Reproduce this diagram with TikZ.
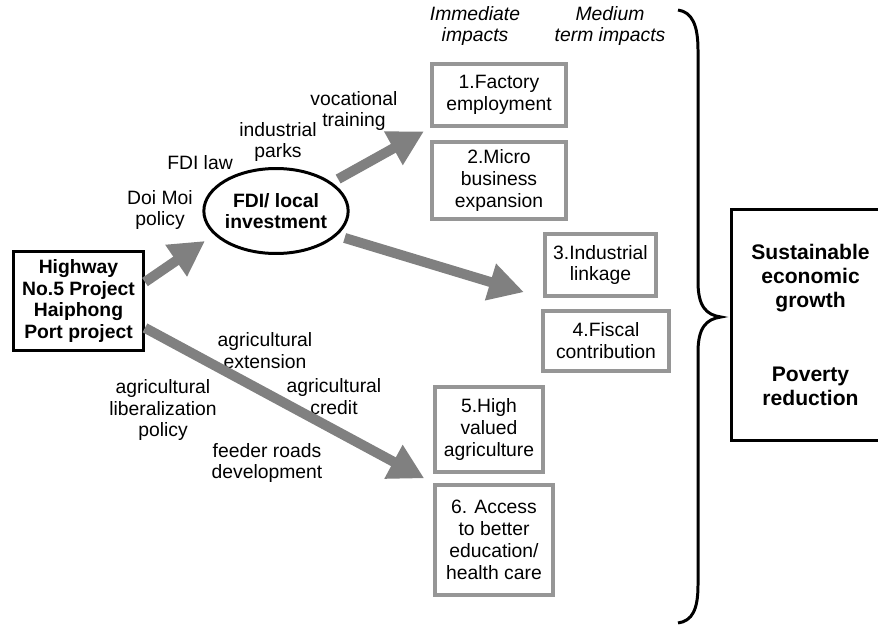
\documentclass[tikz,border=0pt]{standalone}
\usepackage{fontspec}
\setmainfont{Liberation Sans}
\usetikzlibrary{arrows.meta,shapes.geometric}
\definecolor{flowgray}{RGB}{128,128,128}
\definecolor{framegray}{RGB}{150,150,150}

\begin{document}
\begin{tikzpicture}[x=0.02cm, y=-0.02cm,
    impact/.style={draw=framegray, line width=2.2pt, inner sep=0pt, align=center,
                   font=\fontsize{11}{12.5}\selectfont},
    driver/.style={draw, line width=1.7pt, inner sep=0pt, align=center,
                   font=\fontsize{11}{12.5}\selectfont\bfseries},
    hub/.style={draw, ellipse, line width=1.7pt, inner sep=0pt, align=center,
                minimum width=2.78cm, minimum height=1.70cm,
                font=\fontsize{11}{12}\selectfont\bfseries},
    note/.style={inner sep=0pt, align=center, font=\fontsize{11}{12.5}\selectfont},
    head/.style={note, font=\fontsize{11}{12.5}\selectfont\itshape},
    flow/.style={draw=flowgray, line width=0.2cm,
                 -{Triangle[length=0.7cm, width=0.72cm]}},
  ]
  \path[use as bounding box] (0,0) rectangle (878,625);
  \clip (0,0) rectangle (878,625);
  % The start: the projects and the investment they bring
  \node[driver, minimum width=2.6cm, minimum height=1.98cm] (hw) at (78.5,301)
    {Highway\\No.5 Project\\Haiphong\\Port project};
  \node[hub] (fdi) at (276,211) {FDI/ local\\investment};
  % Column headers
  \node[head] (imm) at (475,26) {Immediate\\impacts};
  \node[head] (med) at (610,26) {Medium\\term impacts};
  % The impacts
  \node[impact, minimum width=2.68cm, minimum height=1.24cm] (fac) at (499,95)
    {1.Factory\\employment};
  \node[impact, minimum width=2.68cm, minimum height=1.54cm] (micro) at (499,180.5)
    {2.Micro\\business\\expansion};
  \node[impact, minimum width=2.22cm, minimum height=1.24cm] (link) at (600.5,265)
    {3.Industrial\\linkage};
  \node[impact, minimum width=2.52cm, minimum height=1.20cm] (fisc) at (606,341)
    {4.Fiscal\\contribution};
  \node[impact, minimum width=2.16cm, minimum height=1.70cm] (agri) at (489,429.5)
    {5.High\\valued\\agriculture};
  \node[impact, minimum width=2.36cm, minimum height=2.20cm] (acc) at (494,540)
    {6. Access\\to better\\education/\\health care};
  % The goal
  \node[draw, line width=2pt, inner sep=0pt, align=center,
        minimum width=3.17cm, minimum height=4.62cm,
        font=\fontsize{12}{13.9}\selectfont\bfseries] (goal) at (810.5,325)
    {Sustainable\\economic\\growth\\[28pt]Poverty\\reduction};
  \draw[line width=1.7pt] (678,10) .. controls (692,12) and (698,25) .. (698,50)
    -- (698,282) .. controls (698,306) and (706,315) .. (721,317)
    .. controls (706,319) and (698,328) .. (698,352)
    -- (698,585) .. controls (698,610) and (692,621) .. (678,623);
  % Labels along the arrows
  \node[note] (doimoi) at (160,210) {Doi Moi\\policy};
  \node[note] (fdilaw) at (200,163) {FDI law};
  \node[note] (parks) at (278,142) {industrial\\parks};
  \node[note] (voc) at (354,111) {vocational\\training};
  \node[note] (ext) at (265,351) {agricultural\\extension};
  \node[note] (lib) at (163,410) {agricultural\\liberalization\\policy};
  \node[note] (credit) at (334,397) {agricultural\\credit};
  \node[note] (feeder) at (267,463) {feeder roads\\development};
  % Arrows
  \draw[flow, shorten >=0.22cm] ([yshift=10.8pt]hw.east) -- (fdi.201);
  \draw[flow, shorten <=0.14cm, shorten >=0.14cm] (fdi.27) -- (fac.south west);
  \draw[flow, shorten <=0.16cm, shorten >=0.4cm] (fdi.338) -- (link.south west);
  \draw[flow, shorten >=0.2cm] ([yshift=-15.3pt]hw.east) -- (acc.north west);
\end{tikzpicture}
\end{document}
